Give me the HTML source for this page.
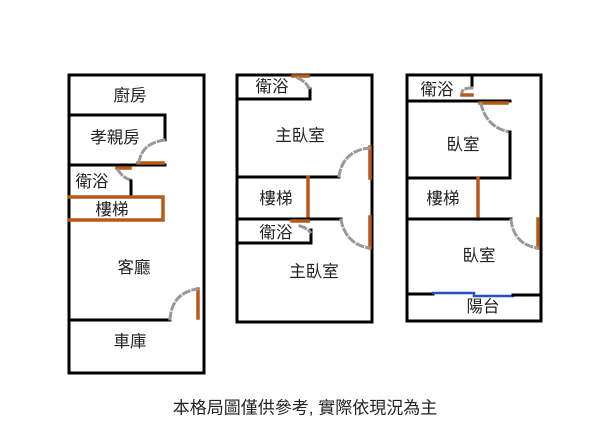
<!DOCTYPE html>
<html><head><meta charset="utf-8"><style>
html,body{margin:0;padding:0;background:#fff;}
svg{display:block}
text{font-family:"Liberation Sans","Noto Sans CJK TC",sans-serif;font-size:16.5px;fill:#222;text-anchor:middle;dominant-baseline:central}
.d{stroke:#999;stroke-width:3;stroke-dasharray:6,4}
</style></head><body>
<svg width="600" height="433" viewBox="0 0 600 433" xmlns="http://www.w3.org/2000/svg">
<g fill="none" stroke-linecap="square">
<!-- Left building -->
<rect x="69" y="75" width="135" height="298" stroke="#000" stroke-width="3"/>
<polyline points="69,115 165,115 165,140" stroke="#000" stroke-width="3"/>
<line x1="69" y1="165" x2="165" y2="165" stroke="#000" stroke-width="3"/>
<line x1="138" y1="163" x2="163" y2="163" stroke="#b85a17" stroke-width="3.5"/>
<line x1="117" y1="168" x2="130" y2="168" stroke="#b85a17" stroke-width="3.5"/>
<path class="d" d="M139,162 Q142,143 165,140"/>
<path class="d" d="M118,170 Q123,178 131,180"/>
<line x1="131" y1="181" x2="131" y2="195" stroke="#000" stroke-width="3"/>
<polyline points="69,197 163,197 163,220 69,220" stroke="#b85a17" stroke-width="3.5"/>
<line x1="69" y1="320" x2="170" y2="320" stroke="#000" stroke-width="3"/>
<line x1="198" y1="289" x2="198" y2="318" stroke="#b85a17" stroke-width="3.5"/>
<path class="d" d="M170,319 Q172,293 197,289"/>

<!-- Middle building -->
<rect x="237" y="75" width="135" height="247" stroke="#000" stroke-width="3"/>
<polyline points="237,99 310,99 310,89" stroke="#000" stroke-width="3"/>
<line x1="293" y1="76" x2="308" y2="76" stroke="#b85a17" stroke-width="3.5"/>
<path class="d" d="M298,78 Q306,82 309,88"/>
<line x1="237" y1="177" x2="339" y2="177" stroke="#000" stroke-width="3"/>
<line x1="308" y1="177" x2="308" y2="221" stroke="#b85a17" stroke-width="3.5"/>
<line x1="237" y1="219" x2="341" y2="219" stroke="#000" stroke-width="3"/>
<line x1="292" y1="221" x2="308" y2="221" stroke="#b85a17" stroke-width="3.5"/>
<polyline points="237,243 311,243 311,230" stroke="#000" stroke-width="3"/>
<path class="d" d="M300,226 Q307,228 310,232"/>
<line x1="370" y1="147" x2="370" y2="178" stroke="#b85a17" stroke-width="3.5"/>
<line x1="370" y1="217" x2="370" y2="248" stroke="#b85a17" stroke-width="3.5"/>
<path class="d" d="M339,176 Q343,151 369,148"/>
<path class="d" d="M341,220 Q346,244 369,248"/>

<!-- Right building -->
<rect x="407" y="75" width="134" height="246" stroke="#000" stroke-width="3"/>
<line x1="472" y1="75" x2="472" y2="87" stroke="#000" stroke-width="3"/>
<path class="d" d="M472,88 Q463,88 462,92"/>
<line x1="462" y1="95" x2="472" y2="95" stroke="#b85a17" stroke-width="3.5"/>
<line x1="407" y1="101" x2="510" y2="101" stroke="#000" stroke-width="3"/>
<line x1="480" y1="103" x2="507" y2="103" stroke="#b85a17" stroke-width="3.5"/>
<path class="d" d="M481,104 Q487,128 510,132"/>
<line x1="510" y1="132" x2="510" y2="178" stroke="#000" stroke-width="3"/>
<line x1="407" y1="178" x2="510" y2="178" stroke="#000" stroke-width="3"/>
<line x1="478" y1="178" x2="478" y2="219" stroke="#b85a17" stroke-width="3.5"/>
<line x1="407" y1="219" x2="511" y2="219" stroke="#000" stroke-width="3"/>
<line x1="538" y1="219" x2="538" y2="248" stroke="#b85a17" stroke-width="3.5"/>
<path class="d" d="M511,220 Q514,244 537,248"/>
<line x1="407" y1="294" x2="433" y2="294" stroke="#000" stroke-width="3"/>
<polyline points="433,293 474,293 474,296 513,296" stroke="#2a4fc0" stroke-width="2.5"/>
<line x1="513" y1="295" x2="541" y2="295" stroke="#000" stroke-width="3"/>
</g>
<text x="130" y="96">廚房</text>
<text x="115" y="138">孝親房</text>
<text x="92" y="182">衛浴</text>
<text x="112" y="210">樓梯</text>
<text x="134" y="268">客廳</text>
<text x="130" y="342">車庫</text>
<text x="272" y="87">衛浴</text>
<text x="300" y="136">主臥室</text>
<text x="276" y="199">樓梯</text>
<text x="276" y="233">衛浴</text>
<text x="314" y="272">主臥室</text>
<text x="437" y="90">衛浴</text>
<text x="463" y="145">臥室</text>
<text x="443" y="199">樓梯</text>
<text x="479" y="256">臥室</text>
<text x="483" y="307">陽台</text>
<text x="305" y="408" style="font-size:17px">本格局圖僅供參考, 實際依現況為主</text>
</svg>
</body></html>
